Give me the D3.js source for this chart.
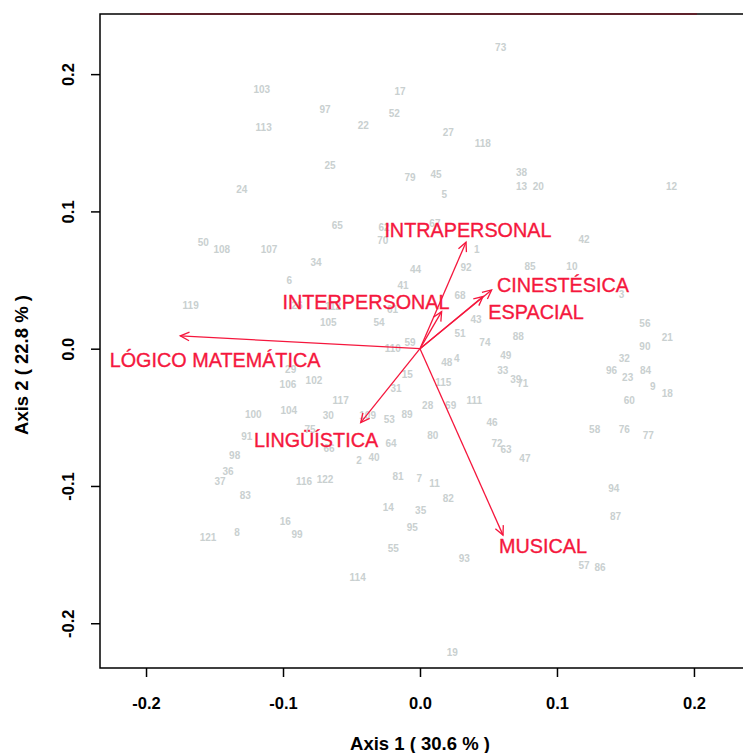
<!DOCTYPE html>
<html>
<head>
<meta charset="utf-8">
<script src="https://cdn.jsdelivr.net/npm/d3@7"></script>
<style>
  body { margin: 0; background: #fff; }
  text { font-family: "Liberation Sans", Arial, sans-serif; }
</style>
</head>
<body>
<svg id="chart" width="743" height="753"></svg>
<script>
// individual scores (axis 1, axis 2)
const ids = ["1","2","3","4","5","6","7","8","9","10","11","12","13","14","15","16","17","18","19","20",
  "21","22","23","24","25","27","28","29","30","31","32","33","34","35","36","37","38","39","40","41",
  "42","43","44","45","46","47","48","49","50","51","52","53","54","55","56","57","58","59","60","61",
  "62","63","64","65","66","67","68","69","70","71","72","73","74","76","77","79","80","81","82","83",
  "84","85","86","87","88","89","90","91","92","93","94","95","96","97","98","99","100","102","103","104",
  "105","106","107","108","109","110","111","113","114","115","116","117","118","119","121","122","26","112","75"];
const ax1 = [0.0414,-0.0445,0.1472,0.0268,0.0177,-0.0954,-0.0005,-0.1336,0.1699,0.1109,0.0106,0.1837,0.0742,-0.0231,-0.0093,-0.0983,-0.0146,0.1805,0.0236,0.0864,
  0.1805,-0.0414,0.1516,-0.1301,-0.0657,0.0207,0.0056,-0.0944,-0.0669,-0.0175,0.1491,0.0604,-0.0759,0.0005,-0.1401,-0.1460,0.0742,0.0699,-0.0336,-0.0124,
  0.1197,0.0409,-0.0033,0.0117,0.0526,0.0766,0.0195,0.0626,-0.1582,0.0292,-0.0188,-0.0224,-0.0299,-0.0195,0.1642,0.1197,0.1275,-0.0073,0.1528,-0.0201,
  -0.0263,0.0628,-0.0212,-0.0604,-0.0664,0.0109,0.0292,0.0224,-0.0272,0.0750,0.0562,0.0589,0.0474,0.1491,0.1666,-0.0073,0.0093,-0.0161,0.0207,-0.1275,
  0.1647,0.0803,0.1314,0.1428,0.0718,-0.0095,0.1642,-0.1265,0.0336,0.0323,0.1414,-0.0056,0.1399,-0.0693,-0.1353,-0.0898,-0.1217,-0.0774,-0.1155,-0.0958,
  -0.0669,-0.0964,-0.1102,-0.1447,-0.0382,-0.0199,0.0396,-0.1141,-0.0455,0.0170,-0.0847,-0.0579,0.0458,-0.1674,-0.1547,-0.0693,-0.0898,-0.0635,-0.0803];
const ax2 = [0.0719,-0.0818,0.0398,-0.0075,0.1122,0.0500,-0.0942,-0.1337,-0.0272,0.0597,-0.0985,0.1185,0.1180,-0.1157,-0.0186,-0.1262,0.1870,-0.0325,-0.2211,0.1180,
  0.0080,0.1624,-0.0211,0.1163,0.1333,0.1576,-0.0412,-0.0148,-0.0488,-0.0288,-0.0073,-0.0160,0.0626,-0.1178,-0.0893,-0.0969,0.1285,-0.0223,-0.0794,0.0460,
  0.0792,0.0209,0.0578,0.1270,-0.0539,-0.0803,-0.0099,-0.0051,0.0775,0.0107,0.1712,-0.0513,0.0194,-0.1452,0.0180,-0.1580,-0.0592,0.0042,-0.0374,0.0282,
  0.0883,-0.0731,-0.0692,0.0894,-0.0725,0.0913,0.0384,-0.0412,0.0787,-0.0252,-0.0692,0.2195,0.0044,-0.0592,-0.0629,0.1245,-0.0629,-0.0932,-0.1090,-0.1071,
  -0.0162,0.0602,-0.1592,-0.1224,0.0087,-0.0476,0.0015,-0.0641,0.0588,-0.1527,-0.1022,-0.1299,-0.0160,0.1739,-0.0781,-0.1355,-0.0476,-0.0235,0.1889,-0.0452,
  0.0194,-0.0259,0.0724,0.0724,-0.0488,-0.0002,-0.0374,0.1613,-0.1668,-0.0248,-0.0969,-0.0374,0.1496,0.0318,-0.1379,-0.0956,0.0318,0.0306,-0.0592];

// variable loadings (arrows) and label anchors
const vars = ["LÓGICO MATEMÁTICA","INTRAPERSONAL","INTERPERSONAL","CINESTÉSICA","ESPACIAL","LINGÜÍSTICA","MUSICAL"];
const varX = [-0.175, 0.0336, 0.0158, 0.0523, 0.046, -0.0433, 0.0606];
const varY = [0.0093, 0.0776, 0.027, 0.0428, 0.038, -0.0539, -0.1358];
const labX = [-0.1496, 0.035, -0.0394, 0.1044, 0.0847, -0.0759, 0.0898];
const labY = [-0.0082, 0.0864, 0.034, 0.0464, 0.0267, -0.0665, -0.1437];

const ticks = [-0.2, -0.1, 0.0, 0.1, 0.2];
const xTitle = "Axis 1 ( 30.6 % )";
const yTitle = "Axis 2 ( 22.8 % )";

const svg = d3.select("#chart");
const red = "#f5173d";

const x = d3.scaleLinear().domain([-0.2336, 0.2358]).range([100, 743]);
const y = d3.scaleLinear().domain([-0.2326, 0.2438]).range([668, 14]);

//points
svg.append("g")
    .selectAll("text")
    .data(ids.map((id, i) => ({id, a: ax1[i], b: ax2[i]})))
    .join("text")
        .attr("x", d => x(d.a))
        .attr("y", d => y(d.b))
        .attr("text-anchor", "middle")
        .attr("dy", "0.35em")
        .attr("font-size", 10)
        .attr("font-weight", "bold")
        .attr("fill", "#c9d0d0")
        .text(d => d.id);

//arrows
const arrowG = svg.append("g").attr("stroke", red).attr("stroke-width", 1.3).attr("fill", "none");
vars.forEach((v, i) => {
    const x0 = x(0), y0 = y(0), x1 = x(varX[i]), y1 = y(varY[i]);
    const ang = Math.atan2(y1 - y0, x1 - x0);
    const len = 10, spread = Math.PI / 7;
    arrowG.append("line").attr("x1", x0).attr("y1", y0).attr("x2", x1).attr("y2", y1);
    arrowG.append("path")
        .attr("d", `M${x1 - len * Math.cos(ang - spread)},${y1 - len * Math.sin(ang - spread)}L${x1},${y1}L${x1 - len * Math.cos(ang + spread)},${y1 - len * Math.sin(ang + spread)}`);
});

svg.append("g")
    .selectAll("text")
    .data(vars)
    .join("text")
        .attr("x", (d, i) => x(labX[i]))
        .attr("y", (d, i) => y(labY[i]))
        .attr("text-anchor", "middle")
        .attr("dy", "0.36em")
        .attr("font-size", 19.8)
        .attr("fill", red)
        .attr("stroke", red)
        .attr("stroke-width", 0.35)
        .text(d => d);

//axes
const fmt = d => d3.format(".1f")(d).replace("−", "-");
const xAxis = d3.axisBottom(x).tickValues(ticks).tickFormat(fmt).tickSize(9).tickPadding(20);
const yAxis = d3.axisLeft(y).tickValues(ticks).tickFormat(fmt).tickSize(9);

const gx = svg.append("g").attr("transform", "translate(0,668)").call(xAxis);
const gy = svg.append("g").attr("transform", "translate(100,0)").call(yAxis);
[gx, gy].forEach(g => {
    g.select(".domain").remove();
    g.selectAll("line").attr("stroke", "#000").attr("stroke-width", 1.5);
    g.selectAll("text").attr("font-size", 16.5).attr("font-weight", "bold").attr("fill", "#000")
        .style("font-family", "'Liberation Sans', Arial, sans-serif");
});
gy.selectAll(".tick text")
    .attr("x", null)
    .attr("transform", "translate(-32,0) rotate(-90)")
    .attr("text-anchor", "middle")
    .attr("dy", "0.35em");

//frame
svg.append("path")
    .attr("d", `M743,14H100V668H743`)
    .attr("fill", "none").attr("stroke", "#000").attr("stroke-width", 1.5);
svg.append("line")
    .attr("x1", 140).attr("x2", 697).attr("y1", 14).attr("y2", 14)
    .attr("stroke", "#6a1a26").attr("stroke-width", 1.5);

//titles
svg.append("text")
    .attr("x", 420).attr("y", 750)
    .attr("text-anchor", "middle")
    .attr("font-size", 18.5).attr("font-weight", "bold")
    .text(xTitle);
svg.append("text")
    .attr("transform", "translate(28,365) rotate(-90)")
    .attr("text-anchor", "middle")
    .attr("font-size", 18.5).attr("font-weight", "bold")
    .text(yTitle);
</script>
</body>
</html>
